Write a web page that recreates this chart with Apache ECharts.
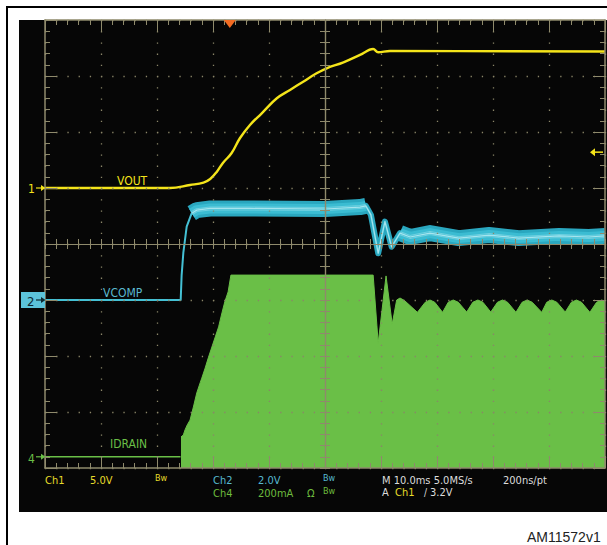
<!DOCTYPE html>
<html>
<head>
<meta charset="utf-8">
<script src="https://cdn.jsdelivr.net/npm/echarts@6/dist/echarts.min.js"></script>
<style>html,body{margin:0;padding:0;background:#fff;}#c{width:607px;height:545px;}</style>
</head>
<body>
<div id="c"></div>
<script>
// ---- Data: [time in ms relative to screen centre, value in channel units]
// Ch1 VOUT (V)
const voutData = [
  [-50, 0.0], [-27.7, 0.0], [-24.1, 0.27], [-21.7, 0.48], [-20.5, 0.80], [-19.3, 1.46], [-18.2, 2.26],
  [-16.7, 3.1], [-15.2, 4.44], [-13.4, 5.63], [-11.3, 6.67], [-8.6, 8.01], [-6.25, 8.75],
  [-3.9, 9.49], [-1.5, 10.24], [0.3, 10.69], [3.3, 11.22], [6.25, 11.88], [8.6, 12.41],
  [9.5, 12.12], [11.6, 12.23], [50, 12.19]
];
// Ch2 VCOMP (V)
const vcompData = [
  [-50, 0.0], [-25.77, 0.0], [-25.6, 0.89], [-25.3, 1.68], [-24.7, 2.62], [-23.8, 3.10],
  [-22.9, 3.21], [-20.5, 3.27], [-13.4, 3.27], [0, 3.25], [6.25, 3.32], [7.3, 3.36],
  [8.2, 3.04], [9.5, 1.67], [10.7, 2.80], [11.9, 1.90], [13.4, 2.39], [15.2, 2.25],
  [18.75, 2.39], [23.9, 2.21], [29.3, 2.32], [34.6, 2.21], [41.8, 2.29], [47.1, 2.25], [50, 2.29]
];
// Ch4 IDRAIN (mA)
const idrainBaseline = [[-50, 0], [-25.8, 0]];
const idrainRise = [
  [-25.71, 71], [-25.3, 78], [-25.0, 96], [-24.6, 114], [-24.1, 131], [-23.5, 178],
  [-22.9, 228], [-22.3, 264], [-22.0, 281], [-21.4, 317], [-20.8, 356], [-20.2, 392],
  [-19.6, 428], [-19.0, 464], [-18.4, 514], [-17.9, 553], [-17.3, 589], [-16.8, 649]
];
const idrainRun = [
  [8.6, 649], [9.5, 406], [10.9, 646], [12.0, 474], [12.8, 560], [13.4, 567], [14.2, 558], [16.5, 516],
  [17.9, 552], [18.75, 560], [19.6, 552], [21.0, 516],
  [22.0, 552], [22.9, 560], [23.8, 552], [25.3, 517],
  [26.4, 552], [27.3, 560], [28.2, 552], [29.6, 517],
  [30.8, 552], [31.7, 560], [32.6, 552], [34.1, 516],
  [35.2, 552], [36.1, 560], [37.0, 552], [38.7, 516],
  [39.6, 552], [40.5, 560], [41.4, 552], [42.9, 517],
  [44.0, 552], [44.9, 560], [45.8, 552], [47.3, 516],
  [48.5, 552], [49.4, 560], [50, 556]
];

// Scope settings (per-division scale and ground position in divisions)
const ch1 = {perDiv: 5, ground: 1};
const ch2 = {perDiv: 2, ground: -1};
const ch4 = {perDiv: 200, ground: -3.8};
const triggerTime = -17;   // ms
const triggerLevel = 3.2;  // V on Ch1

const YEL = '#f4e41a', GRN = '#6abf47';
const GRAT = '#8f8a6c', DOT = '#8a8568';
const NARROW = '"Liberation Sans Narrow","DejaVu Sans Condensed","Liberation Sans",sans-serif';

function chAxis(ch) {
  return {type: 'value', show: false, min: (-4 - ch.ground) * ch.perDiv, max: (4 - ch.ground) * ch.perDiv,
          axisLine: {onZero: false}, splitLine: {show: false}};
}
const xBase = {type: 'value', min: -50, max: 50, interval: 10, z: 5, axisLabel: {show: false}, splitLine: {show: false}};
const yBase = {type: 'value', min: -4, max: 4, interval: 1, z: 5, axisLabel: {show: false}, splitLine: {show: false}};
function edge(base, pos, split) {
  return Object.assign({}, base, {
    position: pos,
    axisLine: {show: true, onZero: false, lineStyle: {color: GRAT, width: 1.5}},
    axisTick: {show: true, inside: true, length: 12, lineStyle: {color: GRAT, width: 1}},
    minorTick: {show: true, splitNumber: 5, length: 5, lineStyle: {color: GRAT, width: 1}},
    splitLine: split ? {show: true, lineStyle: {color: DOT, width: 1.3, type: [1.3, 9.9]}} : {show: false}
  });
}
function centre(base, pos, inside) {
  return Object.assign({}, base, {
    position: pos,
    axisLine: {show: true, onZero: true, onZeroAxisIndex: 0, lineStyle: {color: GRAT, width: 1.2}},
    axisTick: {show: true, inside: inside, length: 5, lineStyle: {color: GRAT, width: 1}},
    minorTick: {show: true, splitNumber: 5, length: 5, lineStyle: {color: GRAT, width: 1}}
  });
}

// noisy plateaus of VCOMP drawn as wide bands; the transient between them as a narrower band
const bandParts = [
  {range: [-23.8, 7.3], cap: 'butt', layers: [{color: '#2aa7bf', width: 16}, {color: '#3bbcd2', width: 10}, {color: '#6fd0e0', width: 4}]},
  {range: [7.3, 13.4], cap: 'round', layers: [{color: '#2aa7bf', width: 6}]},
  {range: [13.4, 50], cap: 'butt', layers: [{color: '#2aa7bf', width: 16}, {color: '#3bbcd2', width: 10}, {color: '#6fd0e0', width: 4}]}
];
const bandSeries = [];
[0, 1, 2].forEach(li => {
  bandParts.forEach(part => {
    const layer = part.layers[li];
    if (!layer) return;
    bandSeries.push({name: 'VCOMP', type: 'line', xAxisIndex: 0, yAxisIndex: 5, symbol: 'none',
      data: vcompData.filter(p => p[0] >= part.range[0] && p[0] <= part.range[1]),
      lineStyle: {color: layer.color, width: layer.width, join: 'round', cap: part.cap}});
  });
});

const chart = echarts.init(document.getElementById('c'), null, {renderer: 'svg', width: 607, height: 545});

chart.setOption({
  backgroundColor: '#ffffff',
  animation: false,
  grid: {left: 45, top: 20, width: 560, height: 448, containLabel: false, outerBoundsMode: 'none'},
  xAxis: [edge(xBase, 'top', true), edge(xBase, 'bottom', false), centre(xBase, 'bottom', true), centre(xBase, 'bottom', false)],
  yAxis: [edge(yBase, 'left', true), edge(yBase, 'right', false), centre(yBase, 'left', true), centre(yBase, 'left', false),
          chAxis(ch1), chAxis(ch2), chAxis(ch4)],
  series: [
    {name: 'IDRAIN', type: 'line', xAxisIndex: 0, yAxisIndex: 6, data: idrainBaseline, symbol: 'none',
     lineStyle: {color: GRN, width: 1.6}},
    {name: 'IDRAIN', type: 'line', xAxisIndex: 0, yAxisIndex: 6, data: idrainRise.concat(idrainRun), symbol: 'none',
     lineStyle: {color: GRN, width: 1}, areaStyle: {color: GRN, opacity: 1, origin: 'start'}},
    ...bandSeries,
    {name: 'VCOMP', type: 'line', xAxisIndex: 0, yAxisIndex: 5, data: vcompData, symbol: 'none',
     lineStyle: {color: '#44c0d4', width: 2, join: 'round'}},
    {name: 'VCOMP', type: 'line', xAxisIndex: 0, yAxisIndex: 5, data: vcompData.filter(p => p[0] >= -23.8), symbol: 'none',
     lineStyle: {color: '#a6e4ee', width: 1.2, join: 'round'}},
    {name: 'VOUT', type: 'line', xAxisIndex: 0, yAxisIndex: 4, data: voutData, symbol: 'none', smooth: 0.4,
     lineStyle: {color: YEL, width: 2.4}}
  ]
});

// positions of scope indicators taken from the axes
const trigX = chart.convertToPixel({xAxisIndex: 0}, triggerTime);
const trigY = chart.convertToPixel({yAxisIndex: 4}, triggerLevel);
const g1 = chart.convertToPixel({yAxisIndex: 4}, 0);
const g2 = chart.convertToPixel({yAxisIndex: 5}, 0);
const g4 = chart.convertToPixel({yAxisIndex: 6}, 0);

function txt(text, x, y, color, size, family) {
  return {type: 'text', z: 100, style: {text: text, x: x, y: y, fill: color,
    font: size + 'px ' + (family || NARROW), verticalAlign: 'middle', align: 'left'}};
}
function marker(y, color) {
  return [
    {type: 'polyline', z: 100, shape: {points: [[36, y], [42, y]]}, style: {stroke: color, lineWidth: 1.2}},
    {type: 'polygon', z: 100, shape: {points: [[41, y - 3], [45.5, y], [41, y + 3]]}, style: {fill: color}}
  ];
}
const RO = 11;
const WHT = '#dcdcdc', CY2 = '#56b8cf', GR2 = '#6dbb3e', YE2 = '#e6dc2a';
const graphics = [
  {type: 'rect', z: -20, shape: {x: 7, y: 7, width: 700, height: 700}, style: {fill: 'none', stroke: '#000', lineWidth: 2}},
  {type: 'rect', z: -10, shape: {x: 19, y: 20, width: 600, height: 492}, style: {fill: '#060606'}},
  // trigger position and level
  {type: 'polygon', z: 100, shape: {points: [[trigX - 6, 20], [trigX + 6, 20], [trigX, 28]]}, style: {fill: '#f26b22'}},
  {type: 'polyline', z: 100, shape: {points: [[594, trigY], [603, trigY]]}, style: {stroke: YEL, lineWidth: 1.5}},
  {type: 'polygon', z: 100, shape: {points: [[595, trigY - 4], [590, trigY], [595, trigY + 4]]}, style: {fill: YEL}},
  // channel ground markers
  txt('1', 28, g1 + 1, YEL, 12),
  ...marker(g1, YEL),
  {type: 'rect', z: 99, shape: {x: 21, y: g2 - 8, width: 24, height: 16}, style: {fill: '#5cc3da'}},
  txt('2', 27, g2 + 1, '#0c2a33', 13),
  ...marker(g2, '#0c2a33'),
  txt('4', 28, g4 + 2, GRN, 12),
  ...marker(g4, GRN),
  // trace labels
  txt('VOUT', 117, 181, YEL, 12),
  txt('VCOMP', 103, 293, '#5ab9cf', 12),
  txt('IDRAIN', 110, 444, GRN, 12),
  // readout
  txt('Ch1', 45, 480, YE2, RO), txt('5.0V', 90, 480, YE2, RO), txt('Bw', 155, 478, YE2, 9),
  txt('Ch2', 213, 480, CY2, RO), txt('2.0V', 258, 480, CY2, RO), txt('Bw', 323, 478, CY2, 9),
  txt('Ch4', 213, 493, GR2, RO), txt('200mA', 258, 493, GR2, RO), txt('\u03A9', 307, 493, GR2, RO), txt('Bw', 323, 491, GR2, 9),
  txt('M 10.0ms 5.0MS/s', 382, 480, WHT, RO), txt('200ns/pt', 503, 480, WHT, RO),
  txt('A', 382, 492, WHT, RO), txt('Ch1', 395, 492, YE2, RO), txt('/', 424, 492, WHT, 10), txt('3.2V', 430, 492, WHT, RO),
  txt('AM11572v1', 527, 537, '#222222', 14, '"Liberation Sans",Arial,sans-serif')
];
chart.setOption({graphic: graphics});
</script>
</body>
</html>
